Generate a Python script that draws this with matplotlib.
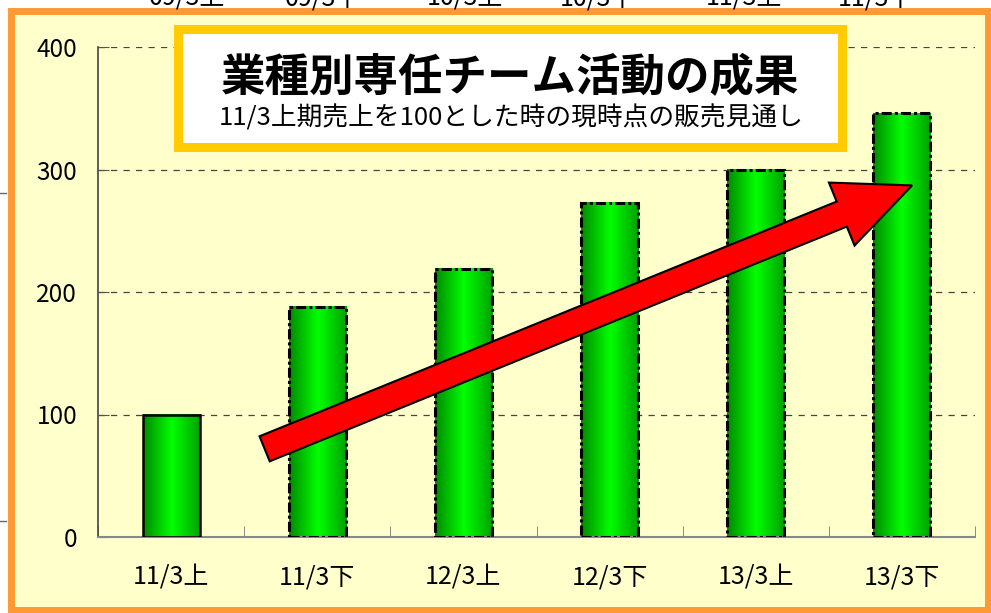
import numpy as np
import matplotlib.pyplot as plt
from matplotlib.colors import LinearSegmentedColormap
from matplotlib.patches import Rectangle, Polygon
from matplotlib.lines import Line2D
from matplotlib.transforms import IdentityTransform

plt.rcParams['font.family'] = ['Noto Sans CJK JP', 'DejaVu Sans']

# data
periods = ['11/3上', '11/3下', '12/3上', '12/3下', '13/3上', '13/3下']
sales_index = [100, 188, 219, 273, 300, 346]
y_ticks = [0, 100, 200, 300, 400]
# labels of the chart above, only their bottoms show
prev_periods = ['09/3上', '09/3下', '10/3上', '10/3下', '11/3上', '11/3下']
prev_label_x = [187, 323, 465, 598, 744, 876]
title = '業種別専任チーム活動の成果'
subtitle = '11/3上期売上を100とした時の現時点の販売見通し'

# arrow from/to in data units (category index, value)
arrow_tail = (0.64, 72)
arrow_tip = (5.07, 287)

W, H = 991, 613
fig = plt.figure(figsize=(W / 100, H / 100), dpi=100)
fig.patch.set_facecolor('white')


def fx(px):
    return px / W


def fy(py):
    return 1 - py / H


# orange frame with pale yellow fill
frame = Rectangle((fx(10.5), fy(609.5)), fx(987.5) - fx(10.5), fy(10.5) - fy(609.5),
                  transform=fig.transFigure, facecolor='#FFFFCC', edgecolor='#FF9933',
                  lw=5, zorder=-1)
fig.add_artist(frame)

for lab, cx in zip(prev_periods, prev_label_x):
    fig.text(fx(cx), fy(6), lab, ha='center', va='baseline', fontsize=18)
for py in (193, 521):
    fig.add_artist(Line2D([0, fx(6)], [fy(py), fy(py)], transform=fig.transFigure,
                          color='#666666', lw=1))

ax = fig.add_axes([98 / W, (H - 537) / H, 877 / W, 490 / H])
ax.set_facecolor('none')

x = np.arange(len(periods))
bars = ax.bar(x, sales_index, width=0.39, facecolor='none', edgecolor='black',
              lw=2.2, linestyle=(0, (3.3, 1, 1, 1)), zorder=3)
bars[0].set_linestyle('-')
bars[0].set_linewidth(1.8)

cmap = LinearSegmentedColormap.from_list(
    'grn', [(0, '#008A00'), (0.5, '#00FF00'), (1, '#00A000')])
grad = np.linspace(0, 1, 256).reshape(1, -1)
for b in bars:
    ax.imshow(grad, cmap=cmap, aspect='auto', zorder=2, interpolation='bicubic',
              extent=[b.get_x(), b.get_x() + b.get_width(), 0, b.get_height()])

ax.set_aspect('auto')
ax.set_xlim(-0.5, len(periods) - 0.5)
ax.set_ylim(0, 400)

ax.set_yticks(y_ticks)
ax.set_xticks(x, periods)
ax.set_xticks(np.arange(-0.5, len(periods), 1), minor=True)
ax.tick_params(axis='x', which='major', length=0, pad=20, labelsize=18)
ax.tick_params(axis='x', which='minor', direction='in', length=8, color='#777777')
ax.tick_params(axis='y', direction='in', length=8, color='#555555', pad=15, labelsize=17.5)

ax.yaxis.grid(True, linestyle=(0, (5, 5)), color='#444444', lw=0.9)
ax.set_axisbelow(True)
for s in ('top', 'right'):
    ax.spines[s].set_visible(False)
ax.spines['left'].set_color('#444444')
ax.spines['bottom'].set_color('#888888')
ax.spines['left'].set_linewidth(1.2)
ax.spines['bottom'].set_linewidth(1.5)

# red arrow, built in pixels so it keeps its shape
tail = ax.transData.transform(arrow_tail)
tip = ax.transData.transform(arrow_tip)
u = (tip - tail) / np.linalg.norm(tip - tail)
n = np.array([-u[1], u[0]])
base = tip - 76 * u
pts = [tail + n * 13.5, base + n * 13.5, base + n * 34, tip,
       base - n * 34, base - n * 13.5, tail - n * 13.5]
ax.add_patch(Polygon(pts, closed=True, transform=IdentityTransform(),
                     facecolor='#FF0000', edgecolor='black', lw=1.5, zorder=4))

# title box
box = Rectangle((fx(177.5), fy(146.5)), fx(842.5) - fx(177.5), fy(29.5) - fy(146.5),
                transform=fig.transFigure, facecolor='white', edgecolor='#FFCC00',
                lw=6.5, zorder=5)
fig.add_artist(box)
fig.text(fx(510), fy(78), title, ha='center', va='center', fontsize=32,
         weight='bold', zorder=6)
fig.text(fx(511), fy(118), subtitle, ha='center', va='center', fontsize=18.5, zorder=6)

fig.savefig('out.png', dpi=100)
